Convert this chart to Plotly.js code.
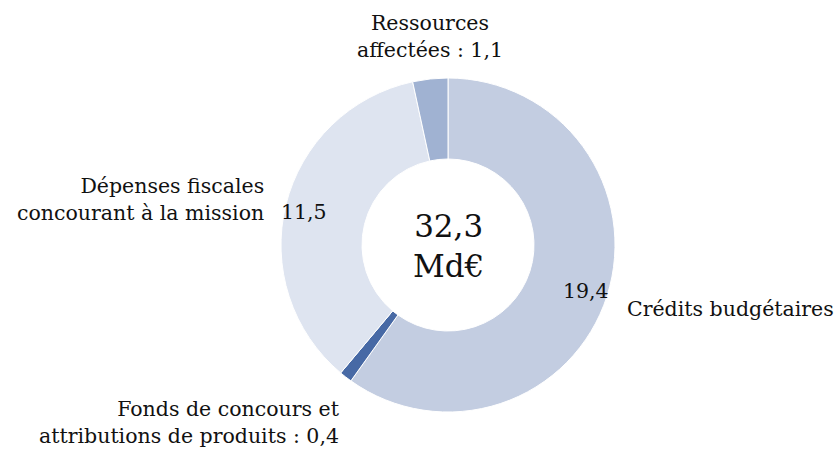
<!DOCTYPE html>
<html><head><meta charset="utf-8">
<script src="https://cdn.plot.ly/plotly-3.0.1.min.js"></script>
<style>html,body{margin:0;padding:0;background:#fff}#c{width:837px;height:449px}</style>
</head><body><div id="c"></div>
<script>
const categories = ["Crédits budgétaires", "Fonds de concours et attributions de produits", "Dépenses fiscales concourant à la mission", "Ressources affectées"];
const values = [19.4, 0.4, 11.5, 1.1];
const colors = ["#c3cde1", "#4769a5", "#dee4f0", "#a0b2d2"];
const totalLabel = "32,3<br>Md€";
const fmt = v => v.toFixed(1).replace(".", ",");

const FONT = "DejaVu Serif";
const trace = {
  type: "pie", labels: categories, values: values,
  textinfo: "none",
  hole: 0.515, sort: false, direction: "clockwise", rotation: 0,
  marker: {colors: colors, line: {color: "#ffffff", width: 1}},
  domain: {x: [281/837, 615/837], y: [1-412/449, 1-78/449]},
  showlegend: false, hoverinfo: "label+value"
};
const ann = (text, x, y, xanchor, size) => ({text, x: x/837, y: 1-y/449, xref: "paper", yref: "paper",
  xanchor, yanchor: "middle", showarrow: false, align: xanchor === "center" ? "center" : xanchor,
  font: {family: FONT, size: size || 20.5, color: "#111"}});
const layout = {
  width: 837, height: 449, margin: {l: 0, r: 0, t: 0, b: 0},
  paper_bgcolor: "#fff", plot_bgcolor: "#fff",
  annotations: [
    ann("Ressources<br>affectées : " + fmt(values[3]), 430, 36, "center"),
    ann("Dépenses fiscales<br>concourant à la mission", 266, 199, "right"),
    ann(categories[0], 625, 309, "left"),
    ann("Fonds de concours et<br>attributions de produits : " + fmt(values[1]), 342, 422, "right"),
    ann(fmt(values[0]), 586, 291, "center"),
    ann(fmt(values[2]), 304, 212, "center"),
    ann(totalLabel, 448, 246, "center", 31)
  ]
};
Plotly.newPlot("c", [trace], layout, {displayModeBar: false, staticPlot: true});
</script></body></html>
